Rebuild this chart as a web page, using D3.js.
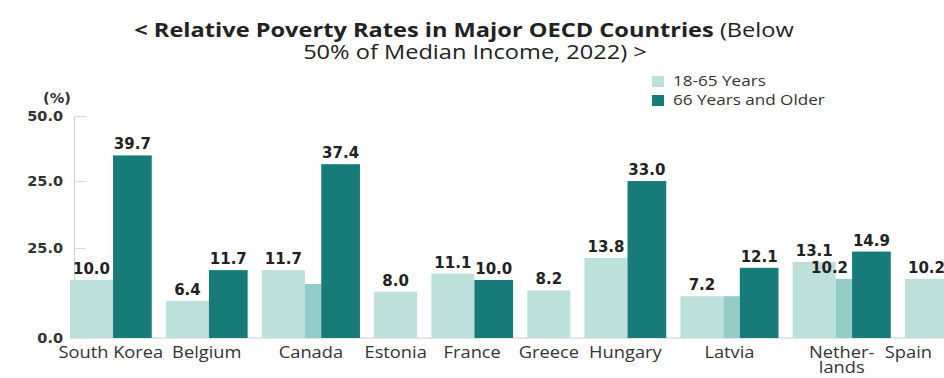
<!DOCTYPE html>
<html>
<head>
<meta charset="utf-8">
<script src="https://cdn.jsdelivr.net/npm/d3@7"></script>
<style>
  html, body { margin: 0; padding: 0; background: #fff; }
  svg { display: block; }
  .tick-label { font-family: "DejaVu Sans", sans-serif; font-weight: bold; font-size: 14.5px; fill: #333; }
  .cat-label { font-family: "Open Sans", sans-serif; font-size: 15.5px; fill: #333; }
  .val-label { font-family: "DejaVu Sans", sans-serif; font-weight: bold; font-size: 15px; fill: #222; }
  .legend-label { font-family: "Open Sans", sans-serif; font-size: 14.5px; fill: #333; }
  .title { font-family: "Open Sans", sans-serif; font-size: 20px; fill: #222; }
</style>
</head>
<body>
<div id="chart"></div>
<script>
// chart data
const countries = ["South Korea", "Belgium", "Canada", "Estonia", "France", "Greece", "Hungary", "Latvia", "Nether-|lands", "Spain"];
const age18to65 = [10.0, 6.4, 11.7, 8.0, 11.1, 8.2, 13.8, 7.2, 13.1, 10.2];
const age66plus = [39.7, 11.7, 37.4, null, 10.0, null, 33.0, 12.1, 14.9, null];
// narrow in-between bars (no legend entry)
const overlapValues = [null, null, 9.3, null, null, null, null, 7.2, 10.2, null];
const overlapLabels = ["", "", "", "", "", "", "", "", "10.2", ""];
const seriesNames = ["18-65 Years", "66 Years and Older"];
const yTickValues = [0, 15.5, 33, 50];
const yTickLabels = ["0.0", "25.0", "25.0", "50.0"];

const width = 944, height = 378;
const plot = {left: 74, top: 116, bottom: 338, xStart: 70, xEnd: 948};
const colors = {young: "#bde0db", mid: "#93ccc6", old: "#177b7a"};
// the reference text is a little wider than the installed fonts
const STRETCH = 1.18;

const svg = d3.select('#chart').append('svg')
    .attr('width', width).attr('height', height);

function place(sel, px, py) {
    sel.attr('transform', 'translate(' + px + ',' + py + ') scale(' + STRETCH + ',1)');
}

// title
const title1 = svg.append('text').attr('class', 'title').attr('text-anchor', 'middle');
title1.append('tspan').style('font-weight', 'bold').text('< Relative Poverty Rates in Major OECD Countries ');
title1.append('tspan').text('(Below');
place(title1, 464, 37);
const title2 = svg.append('text').attr('class', 'title').attr('text-anchor', 'middle')
    .text('50% of Median Income, 2022) >');
place(title2, 475, 59);

// bar layout in width units, mapped to pixels through a linear scale
const unit = {light: 1, mid: 0.38, dark: 0.9, gap: 0.33};
let cursor = 0;
const groups = countries.map((c, i) => {
    const g = {name: c, start: cursor, bars: []};
    g.bars.push({key: 'young', value: age18to65[i], label: age18to65[i].toFixed(1), x0: cursor, w: unit.light});
    cursor += unit.light;
    if (overlapValues[i] != null) {
        g.bars.push({key: 'mid', value: overlapValues[i], label: overlapLabels[i], x0: cursor, w: unit.mid});
        cursor += unit.mid;
    }
    if (age66plus[i] != null) {
        g.bars.push({key: 'old', value: age66plus[i], label: age66plus[i].toFixed(1), x0: cursor, w: unit.dark});
        cursor += unit.dark;
    }
    g.end = cursor;
    cursor += unit.gap;
    return g;
});
const total = cursor - unit.gap;

const x = d3.scaleLinear().domain([0, total]).range([plot.xStart, plot.xEnd]);
const h = plot.bottom - plot.top;
const y = d3.scaleLinear()
    .domain(yTickValues)
    .range([plot.bottom, plot.bottom - 0.405 * h, plot.bottom - 0.707 * h, plot.top]);

// y axis
const yAxis = svg.append('g')
    .attr('transform', 'translate(' + plot.left + ',0)')
    .call(d3.axisLeft(y).tickValues(yTickValues)
        .tickFormat((d, i) => yTickLabels[i])
        .tickSizeInner(-12).tickSizeOuter(0).tickPadding(11));
yAxis.attr('font-family', null).attr('font-size', null);
yAxis.select('.domain').attr('stroke', '#cfcfcf');
yAxis.selectAll('.tick line').attr('stroke', '#d8d8d8');
yAxis.selectAll('.tick text').attr('class', 'tick-label').attr('fill', null);

svg.append('text')
    .attr('x', 57).attr('y', 103)
    .attr('text-anchor', 'middle')
    .attr('class', 'tick-label')
    .text('(%)');

// baseline
svg.append('line')
    .attr('x1', plot.left - 4).attr('x2', width)
    .attr('y1', y(0)).attr('y2', y(0))
    .attr('stroke', '#dcdcdc').attr('stroke-width', 1.5);

// bars
const bars = groups.flatMap(g => g.bars);
svg.append('g').selectAll('rect')
    .data(bars)
    .enter().append('rect')
        .attr('x', d => x(d.x0))
        .attr('width', d => x(d.x0 + d.w) - x(d.x0))
        .attr('y', d => y(d.value))
        .attr('height', d => y(0) - y(d.value))
        .attr('fill', d => colors[d.key]);

// value labels
svg.append('g').selectAll('text')
    .data(bars.filter(d => d.label))
    .enter().append('text')
        .attr('class', 'val-label')
        .attr('x', d => d.key === 'mid' ? x(d.x0 + d.w) - 4 : (x(d.x0) + x(d.x0 + d.w)) / 2)
        .attr('y', d => y(d.value) - 6)
        .attr('text-anchor', d => d.key === 'mid' ? 'end' : 'middle')
        .text(d => d.label);

// category labels, kept inside the right edge
const cats = svg.append('g').selectAll('text')
    .data(groups)
    .enter().append('text')
        .attr('class', 'cat-label')
        .attr('text-anchor', 'middle');
cats.selectAll('tspan')
    .data(g => g.name.split('|'))
    .enter().append('tspan')
        .attr('x', 0)
        .attr('dy', (d, i) => i === 0 ? 0 : 15)
        .text(d => d);
cats.each(function(g) {
    const half = this.getBBox().width * STRETCH / 2;
    const cx = Math.min((x(g.start) + x(g.end)) / 2, width - 12 - half);
    place(d3.select(this), cx, 358);
});

// legend
const legend = svg.append('g').selectAll('g')
    .data(seriesNames)
    .enter().append('g')
        .attr('transform', (d, i) => 'translate(652,' + (76 + i * 19) + ')');
legend.append('rect')
    .attr('width', 12).attr('height', 11)
    .attr('fill', (d, i) => i === 0 ? colors.young : colors.old);
legend.append('text')
    .attr('class', 'legend-label')
    .attr('transform', 'translate(21,10) scale(' + STRETCH + ',1)')
    .text(d => d);
</script>
</body>
</html>
